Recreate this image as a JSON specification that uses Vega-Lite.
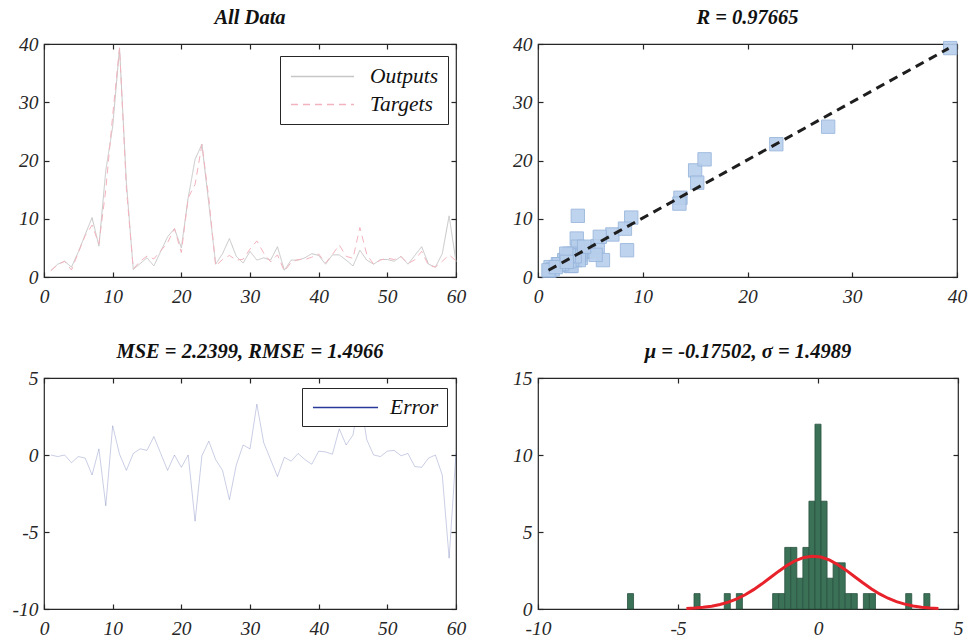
{
  "$schema": "https://vega.github.io/schema/vega-lite/v6.json",
  "background": "white",
  "padding": {"left": 11, "top": 6, "right": 5, "bottom": 5},
  "config": {
    "font": "Liberation Serif",
    "locale": {"number": {"decimal": ".", "thousands": ",", "grouping": [3], "currency": ["$", ""], "minus": "-"}},
    "view": {"stroke": "#262626", "strokeWidth": 1.2},
    "axis": {"grid": false, "domain": false, "tickColor": "#262626", "tickSize": -5, "tickWidth": 1.2, "labelFont": "Liberation Serif", "labelFontSize": 19.5, "labelFontStyle": "italic", "labelColor": "#262626", "labelFlush": false, "labelOverlap": false},
    "axisX": {"labelPadding": 15},
    "axisY": {"labelPadding": 11},
    "title": {"font": "Liberation Serif", "fontSize": 20.5, "fontWeight": "bold", "fontStyle": "italic", "color": "#111111", "offset": 6},
    "legend": {"labelFont": "Liberation Serif", "labelFontStyle": "italic", "labelFontSize": 21.5, "labelColor": "#111111", "strokeColor": "#262626", "fillColor": "white", "symbolOpacity": 1, "labelLimit": 0}
  },
  "datasets": {
    "ts": [
      {"i": 1, "Outputs": 1.1, "Targets": 1.1, "Error": 0},
      {"i": 2, "Outputs": 2.2, "Targets": 2.1, "Error": -0.1},
      {"i": 3, "Outputs": 2.7, "Targets": 2.7, "Error": 0},
      {"i": 4, "Outputs": 1.7, "Targets": 1.2, "Error": -0.5},
      {"i": 5, "Outputs": 4.3, "Targets": 4.2, "Error": -0.1},
      {"i": 6, "Outputs": 7.3, "Targets": 7.1, "Error": -0.2},
      {"i": 7, "Outputs": 10.2, "Targets": 8.9, "Error": -1.3},
      {"i": 8, "Outputs": 5.3, "Targets": 5.7, "Error": 0.4},
      {"i": 9, "Outputs": 18.3, "Targets": 15.0, "Error": -3.3},
      {"i": 10, "Outputs": 25.8, "Targets": 27.7, "Error": 1.9},
      {"i": 11, "Outputs": 39.3, "Targets": 39.35, "Error": 0.05},
      {"i": 12, "Outputs": 16.2, "Targets": 15.2, "Error": -1.0},
      {"i": 13, "Outputs": 1.3, "Targets": 1.4, "Error": 0.1},
      {"i": 14, "Outputs": 2.3, "Targets": 2.7, "Error": 0.4},
      {"i": 15, "Outputs": 3.3, "Targets": 3.6, "Error": 0.3},
      {"i": 16, "Outputs": 1.9, "Targets": 3.1, "Error": 1.2},
      {"i": 17, "Outputs": 4.4, "Targets": 4.5, "Error": 0.1},
      {"i": 18, "Outputs": 6.9, "Targets": 5.9, "Error": -1.0},
      {"i": 19, "Outputs": 8.3, "Targets": 8.3, "Error": 0},
      {"i": 20, "Outputs": 5.0, "Targets": 4.2, "Error": -0.8},
      {"i": 21, "Outputs": 13.6, "Targets": 13.6, "Error": 0},
      {"i": 22, "Outputs": 20.2, "Targets": 15.9, "Error": -4.3},
      {"i": 23, "Outputs": 22.8, "Targets": 22.75, "Error": -0.05},
      {"i": 24, "Outputs": 12.6, "Targets": 13.5, "Error": 0.9},
      {"i": 25, "Outputs": 2.2, "Targets": 1.9, "Error": -0.3},
      {"i": 26, "Outputs": 4.0, "Targets": 3.0, "Error": -1.0},
      {"i": 27, "Outputs": 6.6, "Targets": 3.7, "Error": -2.9},
      {"i": 28, "Outputs": 3.55, "Targets": 2.9, "Error": -0.65},
      {"i": 29, "Outputs": 2.4, "Targets": 3.05, "Error": 0.65},
      {"i": 30, "Outputs": 4.4, "Targets": 4.8, "Error": 0.4},
      {"i": 31, "Outputs": 2.9, "Targets": 6.2, "Error": 3.3},
      {"i": 32, "Outputs": 3.3, "Targets": 4.1, "Error": 0.8},
      {"i": 33, "Outputs": 2.9, "Targets": 2.6, "Error": -0.3},
      {"i": 34, "Outputs": 5.2, "Targets": 3.8, "Error": -1.4},
      {"i": 35, "Outputs": 1.15, "Targets": 1.0, "Error": -0.15},
      {"i": 36, "Outputs": 2.9, "Targets": 2.5, "Error": -0.4},
      {"i": 37, "Outputs": 2.9, "Targets": 3.0, "Error": 0.1},
      {"i": 38, "Outputs": 3.3, "Targets": 3.0, "Error": -0.3},
      {"i": 39, "Outputs": 4.0, "Targets": 3.4, "Error": -0.6},
      {"i": 40, "Outputs": 3.7, "Targets": 3.95, "Error": 0.25},
      {"i": 41, "Outputs": 2.2, "Targets": 2.4, "Error": 0.2},
      {"i": 42, "Outputs": 3.8, "Targets": 3.85, "Error": 0.05},
      {"i": 43, "Outputs": 3.8, "Targets": 5.5, "Error": 1.7},
      {"i": 44, "Outputs": 2.9, "Targets": 3.55, "Error": 0.65},
      {"i": 45, "Outputs": 1.9, "Targets": 3.2, "Error": 1.3},
      {"i": 46, "Outputs": 4.6, "Targets": 8.5, "Error": 3.9},
      {"i": 47, "Outputs": 2.9, "Targets": 3.9, "Error": 1.0},
      {"i": 48, "Outputs": 2.2, "Targets": 2.2, "Error": 0},
      {"i": 49, "Outputs": 3.0, "Targets": 2.9, "Error": -0.1},
      {"i": 50, "Outputs": 3.0, "Targets": 3.25, "Error": 0.25},
      {"i": 51, "Outputs": 2.7, "Targets": 3.0, "Error": 0.3},
      {"i": 52, "Outputs": 3.55, "Targets": 3.5, "Error": -0.05},
      {"i": 53, "Outputs": 2.2, "Targets": 2.3, "Error": 0.1},
      {"i": 54, "Outputs": 3.7, "Targets": 2.95, "Error": -0.75},
      {"i": 55, "Outputs": 5.2, "Targets": 4.4, "Error": -0.8},
      {"i": 56, "Outputs": 2.2, "Targets": 2.0, "Error": -0.2},
      {"i": 57, "Outputs": 1.7, "Targets": 1.7, "Error": 0},
      {"i": 58, "Outputs": 4.0, "Targets": 2.7, "Error": -1.3},
      {"i": 59, "Outputs": 10.5, "Targets": 3.8, "Error": -6.7},
      {"i": 60, "Outputs": 2.6, "Targets": 2.75, "Error": 0.15}
    ],
    "fit": [
      {"x": 1.0, "y": 1.15},
      {"x": 39.2, "y": 39.25}
    ],
    "hist": [
      {"start": -6.804, "end": -6.588, "count": 1},
      {"start": -4.428, "end": -4.212, "count": 1},
      {"start": -3.348, "end": -3.132, "count": 1},
      {"start": -2.916, "end": -2.7, "count": 1},
      {"start": -1.62, "end": -1.404, "count": 1},
      {"start": -1.404, "end": -1.188, "count": 1},
      {"start": -1.188, "end": -0.972, "count": 4},
      {"start": -0.972, "end": -0.756, "count": 4},
      {"start": -0.756, "end": -0.54, "count": 2},
      {"start": -0.54, "end": -0.324, "count": 4},
      {"start": -0.324, "end": -0.108, "count": 7},
      {"start": -0.108, "end": 0.108, "count": 12},
      {"start": 0.108, "end": 0.324, "count": 7},
      {"start": 0.324, "end": 0.54, "count": 2},
      {"start": 0.54, "end": 0.756, "count": 3},
      {"start": 0.756, "end": 0.972, "count": 3},
      {"start": 0.972, "end": 1.188, "count": 1},
      {"start": 1.188, "end": 1.404, "count": 1},
      {"start": 1.62, "end": 1.836, "count": 1},
      {"start": 1.836, "end": 2.052, "count": 1},
      {"start": 3.132, "end": 3.348, "count": 1},
      {"start": 3.78, "end": 3.996, "count": 1}
    ],
    "curve": [
      {"x": -4.7, "y": 0.036}, {"x": -4.4, "y": 0.065}, {"x": -4.1, "y": 0.111}, {"x": -3.8, "y": 0.184},
      {"x": -3.5, "y": 0.293}, {"x": -3.2, "y": 0.448}, {"x": -2.9, "y": 0.657}, {"x": -2.6, "y": 0.927},
      {"x": -2.3, "y": 1.256}, {"x": -2.0, "y": 1.634}, {"x": -1.7, "y": 2.044}, {"x": -1.4, "y": 2.456},
      {"x": -1.1, "y": 2.835}, {"x": -0.8, "y": 3.145}, {"x": -0.5, "y": 3.35}, {"x": -0.2, "y": 3.43},
      {"x": 0.1, "y": 3.373}, {"x": 0.4, "y": 3.187}, {"x": 0.7, "y": 2.893}, {"x": 1.0, "y": 2.523},
      {"x": 1.3, "y": 2.114}, {"x": 1.6, "y": 1.701}, {"x": 1.9, "y": 1.316}, {"x": 2.2, "y": 0.978},
      {"x": 2.5, "y": 0.698}, {"x": 2.8, "y": 0.478}, {"x": 3.1, "y": 0.315}, {"x": 3.4, "y": 0.2},
      {"x": 3.7, "y": 0.121}, {"x": 4.0, "y": 0.071}, {"x": 4.3, "y": 0.04}
    ]
  },
  "columns": 2,
  "bounds": "flush",
  "spacing": {"row": 101, "column": 82},
  "resolve": {"scale": {"color": "independent", "strokeDash": "independent"}, "legend": {"color": "independent", "strokeDash": "independent"}},
  "concat": [
    {
      "width": 412, "height": 233,
      "title": "All Data",
      "data": {"name": "ts"},
      "transform": [{"fold": ["Outputs", "Targets"], "as": ["series", "value"]}],
      "layer": [
        {
          "mark": {"type": "line", "strokeWidth": 1},
          "encoding": {
            "x": {"field": "i", "type": "quantitative", "title": null, "scale": {"domain": [0, 60], "nice": false}, "axis": {"values": [0, 10, 20, 30, 40, 50, 60]}},
            "y": {"field": "value", "type": "quantitative", "title": null, "scale": {"domain": [0, 40], "nice": false}, "axis": {"values": [0, 10, 20, 30, 40]}},
            "color": {"field": "series", "type": "nominal", "scale": {"domain": ["Outputs", "Targets"], "range": ["#c6c6c6", "#f3b3be"]},
              "legend": {"title": null, "orient": "none", "legendX": 236, "legendY": 12, "padding": 9, "rowPadding": 6, "symbolType": "M-3,0L3,0", "symbolSize": 441, "symbolOffset": 22, "symbolStrokeWidth": 1.3, "labelOffset": 36,
                "encode": {"symbols": {"update": {"stroke": {"signal": "datum.value === 'Outputs' ? '#000000' : '#f3b3be'"}}}}}},
            "strokeDash": {"field": "series", "type": "nominal", "scale": {"domain": ["Outputs", "Targets"], "range": [[1, 0], [7, 5]]},
              "legend": {"title": null, "orient": "none", "legendX": 236, "legendY": 12, "padding": 9, "rowPadding": 6, "symbolType": "M-3,0L3,0", "symbolSize": 441, "symbolOffset": 22, "symbolStrokeWidth": 1.3, "labelOffset": 36,
                "encode": {"symbols": {"update": {"stroke": {"signal": "datum.value === 'Outputs' ? '#000000' : '#f3b3be'"}}}}}}
          }
        },
        {
          "mark": {"type": "line", "opacity": 0},
          "encoding": {
            "x": {"field": "i", "type": "quantitative", "title": null, "scale": {"domain": [0, 60], "nice": false}, "axis": {"orient": "top", "labels": false, "values": [0, 10, 20, 30, 40, 50, 60]}},
            "y": {"field": "value", "type": "quantitative", "title": null, "scale": {"domain": [0, 40], "nice": false}, "axis": {"orient": "right", "labels": false, "values": [0, 10, 20, 30, 40]}}
          }
        }
      ],
      "resolve": {"axis": {"x": "independent", "y": "independent"}}
    },
    {
      "width": 419, "height": 233,
      "title": "R = 0.97665",
      "layer": [
        {
          "data": {"name": "ts"},
          "mark": {"type": "square", "size": 178, "filled": true, "color": "#b8cfec", "stroke": "#98b6dc", "strokeWidth": 1, "opacity": 0.9},
          "encoding": {
            "x": {"field": "Targets", "type": "quantitative", "title": null, "scale": {"domain": [0, 40], "nice": false}, "axis": {"values": [0, 10, 20, 30, 40]}},
            "y": {"field": "Outputs", "type": "quantitative", "title": null, "scale": {"domain": [0, 40], "nice": false}, "axis": {"values": [0, 10, 20, 30, 40]}}
          }
        },
        {
          "data": {"name": "fit"},
          "mark": {"type": "line", "color": "#1e1e1e", "strokeWidth": 3, "strokeDash": [9, 6]},
          "encoding": {
            "x": {"field": "x", "type": "quantitative", "title": null, "scale": {"domain": [0, 40], "nice": false}, "axis": null},
            "y": {"field": "y", "type": "quantitative", "title": null, "scale": {"domain": [0, 40], "nice": false}, "axis": null}
          }
        },
        {
          "data": {"name": "fit"},
          "mark": {"type": "point", "opacity": 0},
          "encoding": {
            "x": {"field": "x", "type": "quantitative", "title": null, "scale": {"domain": [0, 40], "nice": false}, "axis": {"orient": "top", "labels": false, "values": [0, 10, 20, 30, 40]}},
            "y": {"field": "y", "type": "quantitative", "title": null, "scale": {"domain": [0, 40], "nice": false}, "axis": {"orient": "right", "labels": false, "values": [0, 10, 20, 30, 40]}}
          }
        }
      ],
      "resolve": {"axis": {"x": "independent", "y": "independent"}}
    },
    {
      "width": 412, "height": 231,
      "title": "MSE = 2.2399, RMSE = 1.4966",
      "data": {"name": "ts"},
      "transform": [{"fold": ["Error"], "as": ["series", "value"]}],
      "layer": [
        {
          "mark": {"type": "line", "strokeWidth": 1, "opacity": 0.25},
          "encoding": {
            "x": {"field": "i", "type": "quantitative", "title": null, "scale": {"domain": [0, 60], "nice": false}, "axis": {"values": [0, 10, 20, 30, 40, 50, 60]}},
            "y": {"field": "value", "type": "quantitative", "title": null, "scale": {"domain": [-10, 5], "nice": false}, "axis": {"values": [-10, -5, 0, 5]}},
            "color": {"field": "series", "type": "nominal", "scale": {"domain": ["Error"], "range": ["#2a3a98"]},
              "legend": {"title": null, "orient": "none", "legendX": 258, "legendY": 10, "padding": 8, "symbolType": "M-3.1,0L3.1,0", "symbolSize": 441, "symbolOffset": 24, "symbolStrokeWidth": 1.3, "symbolOpacity": 1, "labelOffset": 33}}
          }
        },
        {
          "mark": {"type": "line", "opacity": 0},
          "encoding": {
            "x": {"field": "i", "type": "quantitative", "title": null, "scale": {"domain": [0, 60], "nice": false}, "axis": {"orient": "top", "labels": false, "values": [0, 10, 20, 30, 40, 50, 60]}},
            "y": {"field": "value", "type": "quantitative", "title": null, "scale": {"domain": [-10, 5], "nice": false}, "axis": {"orient": "right", "labels": false, "values": [-10, -5, 0, 5]}}
          }
        }
      ],
      "resolve": {"axis": {"x": "independent", "y": "independent"}}
    },
    {
      "width": 420, "height": 231,
      "title": "μ = -0.17502, σ = 1.4989",
      "layer": [
        {
          "data": {"name": "hist"},
          "mark": {"type": "rect", "color": "#3b7257", "stroke": "#2a5040", "strokeWidth": 0.8},
          "encoding": {
            "x": {"field": "start", "type": "quantitative", "title": null, "scale": {"domain": [-10, 5], "nice": false}, "axis": {"values": [-10, -5, 0, 5]}},
            "x2": {"field": "end"},
            "y": {"field": "count", "type": "quantitative", "title": null, "scale": {"domain": [0, 15], "nice": false}, "axis": {"values": [0, 5, 10, 15]}},
            "y2": {"datum": 0}
          }
        },
        {
          "data": {"name": "curve"},
          "mark": {"type": "line", "color": "#e8222b", "strokeWidth": 3},
          "encoding": {
            "x": {"field": "x", "type": "quantitative", "title": null, "scale": {"domain": [-10, 5], "nice": false}, "axis": null},
            "y": {"field": "y", "type": "quantitative", "title": null, "scale": {"domain": [0, 15], "nice": false}, "axis": null}
          }
        },
        {
          "data": {"name": "curve"},
          "mark": {"type": "point", "opacity": 0},
          "encoding": {
            "x": {"field": "x", "type": "quantitative", "title": null, "scale": {"domain": [-10, 5], "nice": false}, "axis": {"orient": "top", "labels": false, "values": [-10, -5, 0, 5]}},
            "y": {"field": "y", "type": "quantitative", "title": null, "scale": {"domain": [0, 15], "nice": false}, "axis": {"orient": "right", "labels": false, "values": [0, 5, 10, 15]}}
          }
        }
      ],
      "resolve": {"axis": {"x": "independent", "y": "independent"}}
    }
  ]
}
